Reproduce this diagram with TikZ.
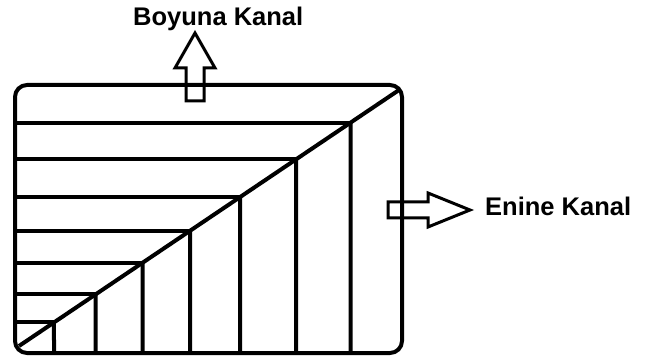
\documentclass[tikz,border=0pt]{standalone}
\usepackage{fontspec}
\setmainfont{Liberation Sans}
\usetikzlibrary{calc}
\begin{document}
\begin{tikzpicture}[x=1pt,y=-1pt,
  frame/.style={line width=4pt,rounded corners=12pt},
  rib/.style={line width=4pt},
  blockarrow/.style={line width=3pt,line join=miter},
  lbl/.style={font=\bfseries\fontsize{25.5}{30}\selectfont,inner sep=0pt,anchor=base west}]
\useasboundingbox (0,0) rectangle (651,358);
% frame
\draw[frame] (15,85) rectangle (402,353);
% diagonal
\coordinate (d1) at (19,346);
\coordinate (d2) at (399,90);
\draw[rib] (d1) -- (d2);
% ribs
\foreach \x/\n in {54/1,95.7/2,142.7/3,190/4,240/5,296/6,350.7/7}{
  \coordinate (p\n) at ($(d1)!{(\x-19)/380}!(d2)$);
  \coordinate (b\n) at (\x,353);
  \coordinate (l\n) at (15,0 |- p\n);
  \draw[rib] (b\n) -- (p\n);
  \draw[rib] (p\n) -- (l\n);
}
% top block arrow
\draw[blockarrow] (186,101) -- (186,68) -- (175,68) -- (195,33) -- (215,68) -- (204,68) -- (204,101) -- cycle;
% right block arrow
\draw[blockarrow] (388,202) -- (428,202) -- (428,193) -- (470,210) -- (428,227) -- (428,218) -- (388,218) -- cycle;
% labels
\node[lbl] (boy) at (133,26) {Boyuna Kanal};
\node[lbl] (enk) at (485,216) {Enine Kanal};
\end{tikzpicture}
\end{document}
